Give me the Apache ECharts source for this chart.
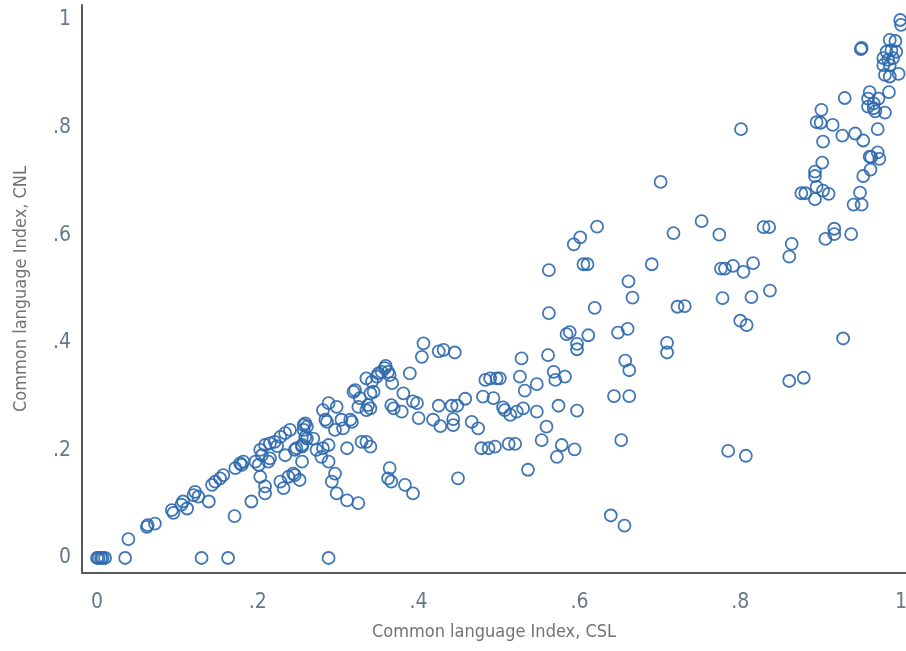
<!DOCTYPE html>
<html>
<head>
<meta charset="utf-8">
<script src="https://cdn.jsdelivr.net/npm/echarts@6/dist/echarts.min.js"></script>
<style>
  html, body { margin: 0; padding: 0; background: #fff; overflow: hidden; }
  #chart { width: 906px; height: 651px; }
</style>
</head>
<body>
<div id="chart"></div>
<script>
// Common language index: spoken (CSL) vs native (CNL), one ring per country pair
const csl = [
  0, 0.002, 0.005, 0.007, 0.010, 0.035, 0.130, 0.163, 0.288,
  0.039, 0.062, 0.063, 0.072, 0.093, 0.095, 0.105, 0.112, 0.107, 0.120,
  0.126, 0.122, 0.139, 0.143, 0.147, 0.153, 0.157, 0.172, 0.178, 0.182,
  0.180, 0.192, 0.171, 0.197, 0.201, 0.203, 0.209, 0.209, 0.203, 0.209,
  0.215, 0.221, 0.228, 0.234, 0.213, 0.215, 0.234, 0.228, 0.232, 0.238,
  0.246, 0.252, 0.246, 0.255, 0.259, 0.257, 0.255, 0.205, 0.224, 0.240,
  0.406, 0.404, 0.358, 0.354, 0.350, 0.362, 0.364, 0.348, 0.359, 0.389,
  0.335, 0.342, 0.344, 0.340, 0.367, 0.321, 0.319, 0.327, 0.381, 0.288,
  0.298, 0.281, 0.325, 0.337, 0.340, 0.335, 0.366, 0.369, 0.379, 0.393,
  0.398, 0.400, 0.259, 0.261, 0.257, 0.284, 0.286, 0.296, 0.304, 0.306,
  0.315, 0.317, 0.261, 0.269, 0.255, 0.248, 0.273, 0.281, 0.288, 0.311,
  0.329, 0.335, 0.340, 0.364, 0.362, 0.366, 0.383, 0.393, 0.449, 0.296,
  0.292, 0.298, 0.311, 0.325, 0.244, 0.279, 0.288,
  0.425, 0.431, 0.445, 0.483, 0.489, 0.497, 0.480, 0.493, 0.425, 0.441,
  0.448, 0.458, 0.418, 0.427, 0.443, 0.443, 0.466, 0.474, 0.478, 0.487,
  0.495, 0.528, 0.561, 0.501, 0.526, 0.547, 0.532, 0.568, 0.570, 0.582,
  0.505, 0.507, 0.514, 0.522, 0.530, 0.547, 0.574, 0.559, 0.553, 0.512,
  0.520, 0.578, 0.572, 0.536, 0.597, 0.594, 0.652, 0.639, 0.656, 0.643,
  0.662, 0.657, 0.662, 0.648, 0.660, 0.584, 0.588, 0.611, 0.597, 0.597,
  0.562, 0.562, 0.619, 0.605, 0.610, 0.593, 0.601, 0.622, 0.661, 0.666,
  0.690, 0.717, 0.752, 0.701, 0.722, 0.731, 0.709, 0.709,
  0.801, 0.901, 0.895, 0.900, 0.915, 0.927, 0.943, 0.953, 0.971, 0.903,
  0.959, 0.966, 0.968, 0.980, 0.930, 0.902, 0.893, 0.893, 0.895, 0.903,
  0.910, 0.893, 0.876, 0.881, 0.971, 0.963, 0.973, 0.962, 0.953, 0.949,
  0.941, 0.951, 0.774, 0.829, 0.836, 0.864, 0.861, 0.917, 0.906, 0.917,
  0.938, 0.776, 0.781, 0.791, 0.804, 0.816, 0.778, 0.814, 0.837, 0.800,
  0.808, 0.928, 0.861, 0.879, 0.785, 0.807,
  0.999, 1.000, 0.950, 0.951, 0.986, 0.993, 0.982, 0.988, 0.994, 0.978,
  0.984, 0.990, 0.978, 0.986, 0.980, 0.986, 0.997, 0.985, 0.961, 0.959,
  0.966, 0.972, 0.961
];
const cnl = [
  0, 0, 0, 0, 0, 0, 0, 0, 0,
  0.035, 0.058, 0.061, 0.064, 0.089, 0.084, 0.099, 0.092, 0.105, 0.117,
  0.114, 0.123, 0.105, 0.136, 0.142, 0.148, 0.154, 0.167, 0.176, 0.179,
  0.173, 0.105, 0.078, 0.179, 0.173, 0.151, 0.133, 0.120, 0.201, 0.210,
  0.213, 0.216, 0.225, 0.232, 0.179, 0.185, 0.191, 0.142, 0.130, 0.151,
  0.154, 0.145, 0.201, 0.207, 0.225, 0.247, 0.179, 0.191, 0.208, 0.238,
  0.399, 0.374, 0.353, 0.346, 0.343, 0.346, 0.340, 0.337, 0.357, 0.343,
  0.334, 0.328, 0.309, 0.306, 0.325, 0.312, 0.309, 0.297, 0.306, 0.288,
  0.281, 0.275, 0.281, 0.284, 0.278, 0.275, 0.284, 0.278, 0.272, 0.291,
  0.288, 0.260, 0.250, 0.244, 0.238, 0.257, 0.253, 0.238, 0.257, 0.241,
  0.257, 0.253, 0.222, 0.222, 0.210, 0.204, 0.201, 0.204, 0.210, 0.204,
  0.216, 0.216, 0.207, 0.167, 0.148, 0.142, 0.136, 0.120, 0.148, 0.157,
  0.142, 0.120, 0.107, 0.102, 0.157, 0.188, 0.179,
  0.384, 0.387, 0.382, 0.331, 0.334, 0.334, 0.300, 0.297, 0.283, 0.283,
  0.283, 0.296, 0.257, 0.245, 0.258, 0.247, 0.253, 0.241, 0.204, 0.204,
  0.207, 0.371, 0.377, 0.334, 0.337, 0.323, 0.311, 0.346, 0.331, 0.337,
  0.280, 0.275, 0.266, 0.272, 0.278, 0.272, 0.283, 0.244, 0.219, 0.212,
  0.212, 0.210, 0.188, 0.164, 0.274, 0.202, 0.219, 0.079, 0.060, 0.301,
  0.301, 0.367, 0.349, 0.419, 0.426, 0.416, 0.420, 0.414, 0.398, 0.388,
  0.455, 0.535, 0.465, 0.546, 0.546, 0.583, 0.596, 0.616, 0.514, 0.484,
  0.546, 0.604, 0.626, 0.699, 0.467, 0.468, 0.400, 0.382,
  0.797, 0.833, 0.810, 0.809, 0.805, 0.785, 0.789, 0.776, 0.797, 0.774,
  0.839, 0.836, 0.830, 0.828, 0.855, 0.735, 0.718, 0.710, 0.690, 0.683,
  0.677, 0.667, 0.678, 0.678, 0.754, 0.745, 0.742, 0.722, 0.710, 0.679,
  0.657, 0.657, 0.601, 0.615, 0.615, 0.584, 0.560, 0.612, 0.593, 0.602,
  0.602, 0.538, 0.538, 0.543, 0.532, 0.548, 0.483, 0.485, 0.497, 0.441,
  0.433, 0.408, 0.329, 0.335, 0.199, 0.190,
  1.000, 0.991, 0.946, 0.948, 0.963, 0.961, 0.941, 0.944, 0.941, 0.929,
  0.926, 0.929, 0.916, 0.916, 0.898, 0.895, 0.900, 0.866, 0.866, 0.854,
  0.845, 0.854, 0.746
];

const tickValues = [0, 0.2, 0.4, 0.6, 0.8, 1];
const xTitle = 'Common language Index, CSL';
const yTitle = 'Common language Index, CNL';

const points = csl.map((x, i) => [x, cnl[i]]);

const FONT = '"DejaVu Sans Condensed", "Liberation Sans Narrow", sans-serif';
const fmt = v => (v === 0 ? '0' : v === 1 ? '1' : String(+v.toFixed(1)).replace(/^0/, ''));

const chart = echarts.init(document.getElementById('chart'), null, { renderer: 'canvas' });
chart.setOption({
  animation: false,
  backgroundColor: '#ffffff',
  grid: { left: 82, right: 0, top: 5, bottom: 78, containLabel: false, outerBoundsMode: 'none' },
  xAxis: {
    type: 'value',
    min: -0.0187,
    max: 1.0062,
    splitLine: { show: false },
    axisTick: { show: false },
    axisLine: { show: true, onZero: false, lineStyle: { color: '#5a5a5a', width: 2 } },
    axisLabel: {
      customValues: tickValues,
      formatter: fmt,
      margin: 19,
      fontFamily: FONT,
      fontSize: 21,
      color: '#66788a'
    },
    name: xTitle,
    nameLocation: 'middle',
    nameGap: 50,
    nameTextStyle: { fontFamily: FONT, fontSize: 18, color: '#737373' }
  },
  yAxis: {
    type: 'value',
    min: -0.0279,
    max: 1.0279,
    splitLine: { show: false },
    axisTick: { show: false },
    axisLine: { show: true, onZero: false, lineStyle: { color: '#5a5a5a', width: 2 } },
    axisLabel: {
      customValues: tickValues,
      formatter: fmt,
      margin: 11,
      fontFamily: FONT,
      fontSize: 21,
      color: '#66788a'
    },
    name: yTitle,
    nameLocation: 'middle',
    nameGap: 52,
    nameRotate: 90,
    nameTextStyle: { fontFamily: FONT, fontSize: 18, color: '#737373' }
  },
  series: [{
    type: 'scatter',
    data: points,
    symbol: 'circle',
    symbolSize: 12,
    itemStyle: {
      color: 'rgba(255,255,255,0)',
      borderColor: '#2c68ad',
      borderWidth: 1.8,
      opacity: 0.9
    }
  }]
});
</script>
</body>
</html>
